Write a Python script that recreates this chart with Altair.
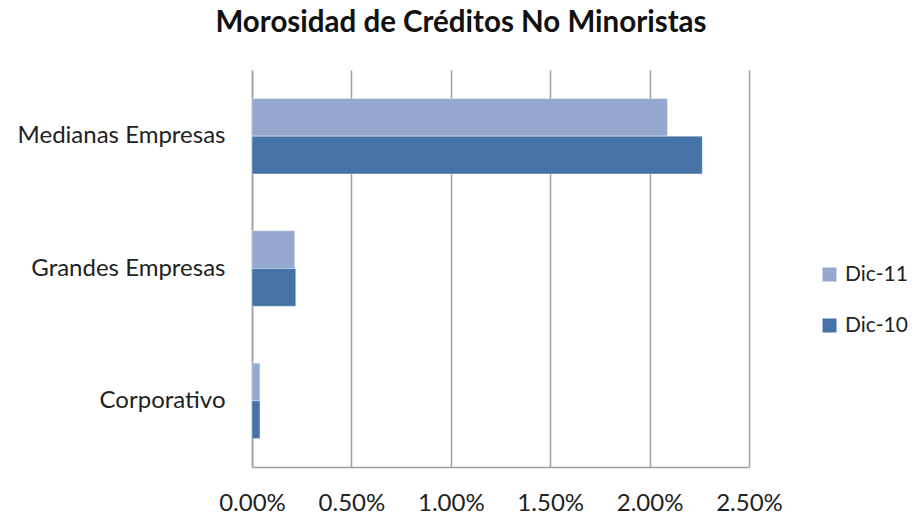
import altair as alt
import pandas as pd

categorias = ["Medianas Empresas", "Grandes Empresas", "Corporativo"]
series = ["Dic-11", "Dic-10"]
dic11 = [2.09, 0.215, 0.04]   # %
dic10 = [2.265, 0.22, 0.04]   # %
ticks_x = [0.0, 0.005, 0.010, 0.015, 0.020, 0.025]
colores = ["#95A9D0", "#4573A8"]
titulo = "Morosidad de Créditos No Minoristas"

rows = []
for i, c in enumerate(categorias):
    rows.append({"cat": c, "serie": "Dic-11", "val": dic11[i] / 100})
    rows.append({"cat": c, "serie": "Dic-10", "val": dic10[i] / 100})
df = pd.DataFrame(rows)

FONT = "Lato"

bars = alt.Chart(df).mark_bar(
    stroke="white", strokeOpacity=0.35, strokeWidth=1
).encode(
    y=alt.Y(
        "cat:N", sort=categorias,
        scale=alt.Scale(paddingInner=0.43, paddingOuter=0.215),
        axis=alt.Axis(title=None, labelFontSize=24, labelFont=FONT, labelColor="#222222",
                      labelPadding=27, labelLimit=400, ticks=False, grid=False,
                      domainColor="#A0A0A0", domainWidth=1.5),
    ),
    yOffset=alt.YOffset("serie:N", sort=series,
                        scale=alt.Scale(domain=series, paddingInner=0, paddingOuter=0)),
    x=alt.X(
        "val:Q",
        scale=alt.Scale(domain=[0, 0.025], nice=False, zero=True),
        axis=alt.Axis(title=None, format=".2%", values=ticks_x, grid=True,
                      gridColor="#A0A0A0", gridWidth=1.5, ticks=False,
                      labelFontSize=24, labelFont=FONT, labelColor="#222222",
                      labelPadding=24, domainColor="#A0A0A0", domainWidth=1.5,
                      labelFlush=False),
    ),
    color=alt.Color(
        "serie:N", sort=series,
        scale=alt.Scale(domain=series, range=colores),
        legend=alt.Legend(title=None, orient="none", legendX=567, legendY=194,
                          symbolType="square", symbolSize=196, symbolStrokeWidth=0,
                          labelFontSize=21, labelFont=FONT, labelColor="#222222",
                          labelOffset=5, rowPadding=29, padding=0, labelLimit=200),
    ),
)

title_df = pd.DataFrame({"t": [titulo]})
title_mark = alt.Chart(title_df).mark_text(
    font=FONT, fontSize=29.5, fontWeight="bold", color="#111111",
    align="center", baseline="alphabetic",
).encode(
    text="t:N",
    x=alt.value(209),
    y=alt.value(-38),
)

chart = alt.layer(bars, title_mark).properties(
    width=497,
    height=397,
    autosize=alt.AutoSizeParams(type="none"),
    padding={"left": 244, "top": 62, "right": 160, "bottom": 48},
).configure_view(stroke=None)

chart.save("out.html", embed_options={"renderer": "svg", "actions": False})
